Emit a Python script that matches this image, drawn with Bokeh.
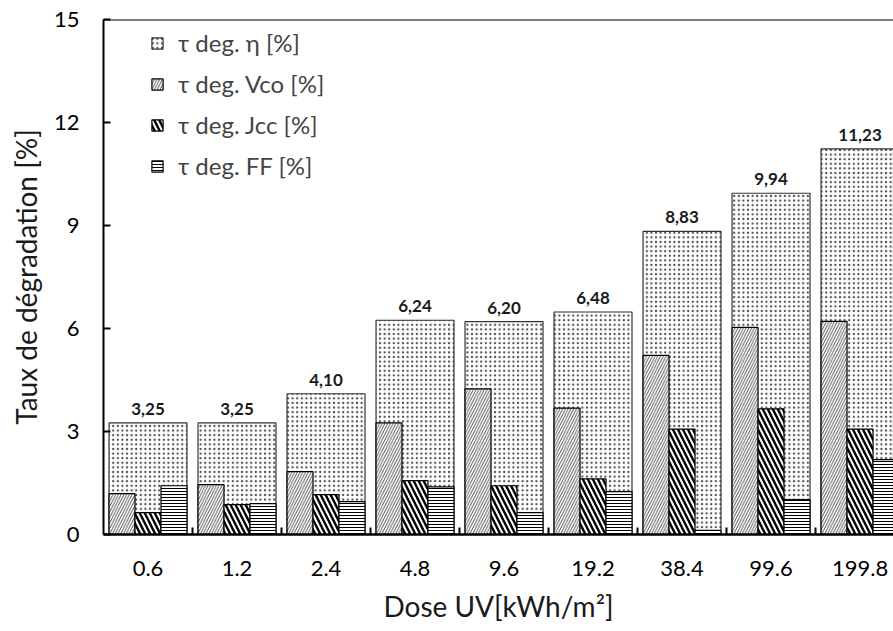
from bokeh.plotting import figure
from bokeh.models import Range1d, FixedTicker, Span, Legend, LegendItem, ColumnDataSource
from bokeh.core.properties import value
from bokeh.embed import file_html
from bokeh.resources import INLINE

doses = ["0.6", "1.2", "2.4", "4.8", "9.6", "19.2", "38.4", "99.6", "199.8"]
eta = [3.25, 3.25, 4.10, 6.24, 6.20, 6.48, 8.83, 9.94, 11.23]
vco = [1.19, 1.45, 1.83, 3.25, 4.24, 3.68, 5.22, 6.03, 6.21]
jcc = [0.64, 0.87, 1.16, 1.57, 1.42, 1.62, 3.07, 3.66, 3.07]
ff = [1.42, 0.90, 0.96, 1.39, 0.64, 1.25, 0.12, 1.02, 2.18]
y_ticks = [0, 3, 6, 9, 12, 15]

FONT = "Lato"
centers = [i + 0.5 for i in range(len(doses))]
big_w = 0.876
sub_w = big_w / 3

p = figure(width=893, height=625, output_backend="svg", toolbar_location=None,
           x_range=Range1d(0, 8.876), y_range=Range1d(0, 15),
           min_border_left=103, min_border_top=19, min_border_bottom=89, min_border_right=0)
p.outline_line_color = None
p.xgrid.visible = False
p.ygrid.visible = False

eta_src = ColumnDataSource(dict(x=centers, top=eta,
                                lab=[f"{v:.2f}".replace(".", ",") for v in eta]))
r_eta = p.vbar(x="x", top="top", width=big_w, bottom=0, source=eta_src,
               fill_color="white", line_color="#333333", line_width=1.2,
               hatch_pattern=".", hatch_color="#222222", hatch_scale=4.6,
               hatch_weight=0.5, hatch_alpha=0.8)
r_vco = p.vbar(x=[c - sub_w for c in centers], top=vco, width=sub_w, bottom=0,
               fill_color="white", line_color="black", line_width=1.2,
               hatch_pattern="/", hatch_color="#222222", hatch_scale=5.5, hatch_weight=0.8)
r_jcc = p.vbar(x=centers, top=jcc, width=sub_w, bottom=0,
               fill_color="white", line_color="black", line_width=1.2,
               hatch_pattern="\\", hatch_color="black", hatch_scale=10, hatch_weight=2.4)
r_ff = p.vbar(x=[c + sub_w for c in centers], top=ff, width=sub_w, bottom=0,
              fill_color="white", line_color="black", line_width=1.2,
              hatch_pattern="-", hatch_color="black", hatch_scale=3, hatch_weight=1)

p.text(x="x", y="top", text="lab", source=eta_src, text_align="center",
       text_baseline="bottom", y_offset=-8, text_font=value(FONT),
       text_font_style="bold", text_font_size="17px", text_color="#1a1a1a")

p.add_layout(Span(location=15, dimension="width", line_color="black", line_width=2))

# axes
p.xaxis.ticker = FixedTicker(ticks=centers, minor_ticks=[1, 2, 3, 4, 5, 6, 7, 8])
p.xaxis.major_label_overrides = {c: d for c, d in zip(centers, doses)}
p.xaxis.major_tick_in = 0
p.xaxis.major_tick_out = 0
p.xaxis.minor_tick_in = 7
p.xaxis.minor_tick_out = 0
p.xaxis.minor_tick_line_width = 2
p.xaxis.axis_line_width = 2.5
p.xaxis.major_label_standoff = 26
p.xaxis.axis_label = "Dose UV[kWh/m²]"
p.xaxis.axis_label_standoff = 10

p.yaxis.ticker = FixedTicker(ticks=y_ticks)
p.yaxis.major_tick_in = 7
p.yaxis.major_tick_out = 0
p.yaxis.major_tick_line_width = 2
p.yaxis.minor_tick_line_color = None
p.yaxis.axis_line_width = 2
p.yaxis.major_label_standoff = 24
p.yaxis.axis_label = "Taux de dégradation [%]"
p.yaxis.axis_label_standoff = 8

for ax in (p.xaxis, p.yaxis):
    ax.major_label_text_font = FONT
    ax.major_label_text_font_size = "22px"
    ax.major_label_text_color = "black"
    ax.axis_label_text_font = FONT
    ax.axis_label_text_font_size = "28px"
    ax.axis_label_text_font_style = "normal"
    ax.axis_label_text_color = "#1a1a1a"
    ax.axis_line_color = "black"

legend = Legend(items=[
    LegendItem(label="τ deg. η [%]", renderers=[r_eta]),
    LegendItem(label="τ deg. Vco [%]", renderers=[r_vco]),
    LegendItem(label="τ deg. Jcc [%]", renderers=[r_jcc]),
    LegendItem(label="τ deg. FF [%]", renderers=[r_ff]),
], location=(47, 354))
legend.label_text_font = FONT
legend.label_text_font_size = "24px"
legend.label_height = 28
legend.glyph_height = 14
legend.glyph_width = 14
legend.spacing = 12
legend.padding = 0
legend.margin = 0
legend.label_standoff = 14
legend.border_line_color = None
legend.background_fill_alpha = 0
p.add_layout(legend, "center")

open("out.html", "w").write(file_html(p, INLINE))
